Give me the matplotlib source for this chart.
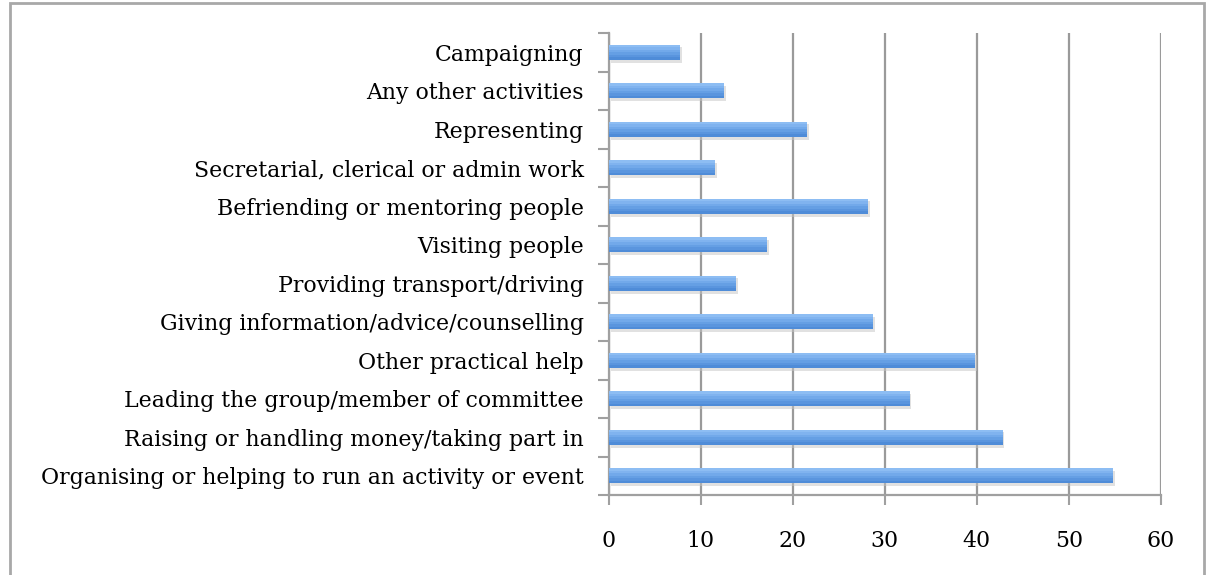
import matplotlib
matplotlib.use("Agg")
import matplotlib.pyplot as plt
from matplotlib.patches import Rectangle
import numpy as np

# categories listed bottom -> top
activities = [
    "Organising or helping to run an activity or event",
    "Raising or handling money/taking part in",
    "Leading the group/member of committee",
    "Other practical help",
    "Giving information/advice/counselling",
    "Providing transport/driving",
    "Visiting people",
    "Befriending or mentoring people",
    "Secretarial, clerical or admin work",
    "Representing",
    "Any other activities",
    "Campaigning",
]
percent = [54.8, 42.8, 32.7, 39.8, 28.7, 13.8, 17.2, 28.2, 11.6, 21.6, 12.5, 7.8]
xticks = [0, 10, 20, 30, 40, 50, 60]

plt.rcParams["font.family"] = ["DejaVu Serif"]

fig = plt.figure(figsize=(12.07, 5.75), dpi=100)
ax = fig.add_axes([0.5043, 0.1391, 0.9617 - 0.5043, 0.9426 - 0.1391])

y = np.arange(len(activities))
h = 0.40
# soft shadow under the bars
ax.barh(y - 0.07, percent, height=h, left=0.2, color="#c4c4c4", alpha=0.5, zorder=2)
# vertical gradient: light on top, darker at the bottom
bands = ["#8dbdf3", "#80b3ef", "#72a9ea", "#659fe4", "#5a95de", "#4f8cd8"]
bh = h / len(bands)
for i, c in enumerate(bands):
    off = h / 2 - bh * (i + 0.5)
    ax.barh(y + off, percent, height=bh * 1.02, color=c, zorder=3, linewidth=0)

ax.set_xlim(0, 60)
ax.set_ylim(-0.5, len(activities) - 0.5)
ax.set_xticks(xticks)
ax.set_yticks(y)
ax.set_yticklabels(activities)
ax.set_yticks(np.arange(-0.5, len(activities)), minor=True)

ax.tick_params(axis="y", which="major", length=0, pad=18, labelsize=15.85)
ax.tick_params(axis="y", which="minor", length=8, width=1.5, color="#a0a0a0", direction="out")
ax.tick_params(axis="x", length=7, width=1.5, color="#a0a0a0", pad=18, labelsize=15.85)

ax.grid(axis="x", color="#9a9a9a", linewidth=1.6, zorder=1)
ax.set_axisbelow(True)
for s in ["top", "right"]:
    ax.spines[s].set_visible(False)
for s in ["left", "bottom"]:
    ax.spines[s].set_color("#a0a0a0")
    ax.spines[s].set_linewidth(1.6)

# outer chart frame
fig.patches.append(Rectangle((10 / 1207, -0.05), 1194 / 1207, 1.0 - 3 / 575 + 0.05,
                             transform=fig.transFigure, fill=False,
                             edgecolor="#a8a8a8", linewidth=2))

fig.savefig("out.png", dpi=100)
